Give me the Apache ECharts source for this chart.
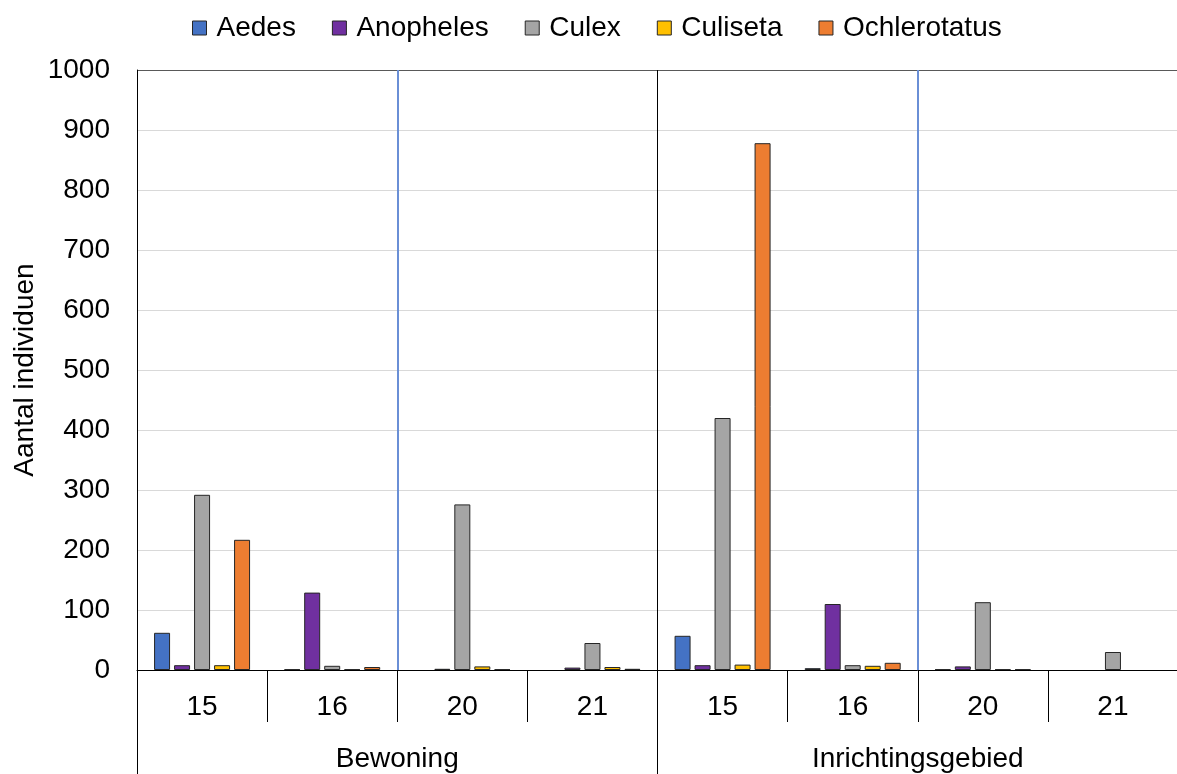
<!DOCTYPE html>
<html>
<head>
<meta charset="utf-8">
<script src="https://cdn.jsdelivr.net/npm/echarts@6/dist/echarts.min.js"></script>
<style>
html,body{margin:0;padding:0;background:#fff;overflow:hidden;}
#chart{width:1177px;height:774px;}
</style>
</head>
<body>
<div id="chart"></div>
<script>
var groups = ['Bewoning', 'Inrichtingsgebied'];
var subCategories = ['15', '16', '20', '21', '15', '16', '20', '21'];
var seriesNames = ['Aedes', 'Anopheles', 'Culex', 'Culiseta', 'Ochlerotatus'];
var aedes = [62, 1, 0, 0, 57, 3, 1, 0];
var anopheles = [8, 129, 2, 4, 8, 110, 6, 0];
var culex = [292, 7, 276, 45, 420, 8, 113, 30];
var culiseta = [8, 1, 6, 5, 9, 7, 1, 0];
var ochlerotatus = [217, 5, 1, 2, 878, 12, 1, 0];
var yTicks = [0, 100, 200, 300, 400, 500, 600, 700, 800, 900, 1000];
var colors = ['#4472C4', '#7030A0', '#A5A5A5', '#FFC000', '#ED7D31'];
var values = [aedes, anopheles, culex, culiseta, ochlerotatus];

var FONT = '"Liberation Sans", Arial, sans-serif';
var FS = 28;

var chart = echarts.init(document.getElementById('chart'), null, {renderer: 'canvas'});

var gridColors = yTicks.map(function (v, i) { return i === yTicks.length - 1 ? '#595959' : '#d9d9d9'; });

var series = seriesNames.map(function (name, i) {
  return {
    name: name,
    type: 'bar',
    xAxisIndex: 0,
    yAxisIndex: 0,
    data: values[i].map(function (v) { return v === 0 ? null : v; }),
    barWidth: 16,
    barGap: '25%',
    itemStyle: {color: colors[i], borderColor: '#262626', borderWidth: 1},
    emphasis: {disabled: true},
    z: 3
  };
});

// half-group slots used only for the blue separator lines in the middle of each group
var halves = [];
groups.forEach(function (g) { halves.push(g + '-a'); halves.push(g + '-b'); });

var option = {
  animation: false,
  textStyle: {fontFamily: FONT},
  color: colors,
  legend: {
    data: seriesNames,
    top: 9,
    left: 187,
    itemWidth: 14,
    itemHeight: 14,
    itemGap: 36,
    icon: 'rect',
    itemStyle: {borderColor: '#262626', borderWidth: 1},
    textStyle: {fontSize: FS, color: '#000', fontFamily: FONT, padding: [0, 0, 0, 5]}
  },
  grid: {left: 137, right: -1, top: 70, bottom: 104, containLabel: false, outerBoundsMode: 'none'},
  xAxis: [
    {
      type: 'category',
      data: subCategories,
      position: 'bottom',
      axisLine: {show: true, lineStyle: {color: '#000', width: 1}},
      axisTick: {show: true, length: 52, interval: 0, lineStyle: {color: '#000', width: 1}},
      axisLabel: {interval: 0, margin: 23, fontSize: FS, color: '#000', fontFamily: FONT},
      splitLine: {show: false},
      z: 5
    },
    {
      type: 'category',
      data: groups,
      position: 'bottom',
      axisLine: {show: false},
      axisTick: {show: true, length: 104, interval: 0, lineStyle: {color: '#000', width: 1}},
      axisLabel: {interval: 0, margin: 75, fontSize: FS, color: '#000', fontFamily: FONT},
      splitLine: {show: true, interval: 0, lineStyle: {color: '#000000', width: 1}},
      z: 4
    },
    {
      type: 'category',
      data: halves,
      position: 'top',
      axisLine: {show: false},
      axisTick: {show: false},
      axisLabel: {show: false},
      splitLine: {
        show: true,
        interval: function (idx) { return idx % 2 === 1; },
        lineStyle: {color: '#6a8fd6', width: 2}
      },
      z: 1
    }
  ],
  yAxis: {
    type: 'value',
    min: 0,
    max: 1000,
    interval: 100,
    name: 'Aantal individuen',
    nameLocation: 'middle',
    nameGap: 98,
    nameMoveOverlap: false,
    nameTextStyle: {fontSize: FS, color: '#000', fontFamily: FONT},
    axisLine: {show: true, lineStyle: {color: '#000', width: 1}},
    axisTick: {show: false},
    axisLabel: {margin: 27, fontSize: FS, color: '#000', fontFamily: FONT, formatter: function (v) { return String(v); }},
    splitLine: {show: true, lineStyle: {color: gridColors, width: 1}},
    z: 0
  },
  series: series
};
chart.setOption(option);
</script>
</body>
</html>
